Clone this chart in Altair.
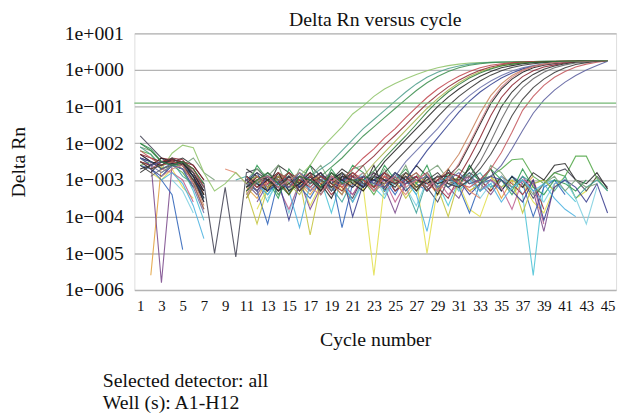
import altair as alt
import pandas as pd

_ = None
cycles = list(range(1, 46))
x_ticks = list(range(1, 46, 2))
y_ticks = [1e-6, 1e-5, 1e-4, 1e-3, 1e-2, 1e-1, 1, 10]
threshold = 0.125
title = "Delta Rn versus cycle"
x_title = "Cycle number"
y_title = "Delta Rn"
notes = ["Selected detector: all", "Well (s): A1-H12"]

# log10(Delta Rn) per cycle (None = no value drawn)
A1 = [-2.6, -2.5, -2.7, -2.27, -2.05, -2.12, -2.8, -3.3, -3.1, -2.8, -3.1, -2.9, -3.2, -2.8, -3.0,
      -2.9, -2.6, -2.15, -1.85, -1.55, -1.2, -0.98, -0.72, -0.52, -0.37, -0.24, -0.12, -0.02, 0.06, 0.12,
      0.16, 0.19, 0.2, 0.21, 0.22, 0.22, 0.23, 0.23, 0.23, 0.24, 0.24, 0.24, 0.24, 0.25, 0.25]
A2 = [-2.1, -2.3, -2.6, -2.5, -2.6, -2.9, -3.5, _, _, _, -3.0, -3.3, -2.8, -3.1, -2.9,
      -3.2, -2.9, -2.7, -2.5, -2.2, -1.9, -1.6, -1.35, -1.1, -0.85, -0.6, -0.38, -0.2, -0.06, 0.04,
      0.11, 0.16, 0.19, 0.21, 0.22, 0.22, 0.23, 0.23, 0.24, 0.24, 0.24, 0.24, 0.25, 0.25, 0.25]
A3 = [-2.4, -2.6, -2.5, -2.6, -2.5, -3.1, -3.8, _, _, _, _, -3.1, -2.9, -3.4, -3.0,
      -2.8, -3.1, -2.9, -2.65, -2.4, -2.1, -1.8, -1.55, -1.3, -1.05, -0.8, -0.56, -0.35, -0.18, -0.04,
      0.06, 0.13, 0.17, 0.2, 0.21, 0.22, 0.23, 0.23, 0.24, 0.24, 0.24, 0.25, 0.25, 0.25, 0.25]
A4 = [_, -2.7, -2.5, -2.45, -2.5, -2.7, -3.2, _, _, _, -3.3, -2.9, -3.1, -2.8, -3.2,
      -3.0, -2.8, -3.3, -2.9, -3.0, -2.7, -2.4, -2.15, -1.85, -1.6, -1.3, -1.02, -0.75, -0.52, -0.33,
      -0.17, -0.04, 0.06, 0.13, 0.17, 0.2, 0.22, 0.23, 0.23, 0.24, 0.24, 0.24, 0.25, 0.25, 0.26]
A5 = [-2.5, -2.6, -2.5, -2.4, -2.45, -2.8, -3.4, _, _, _, -3.0, -3.2, -2.9, -3.0, -3.4,
      -2.9, -3.1, -2.8, -3.2, -2.9, -2.9, -2.6, -2.35, -2.05, -1.78, -1.5, -1.2, -0.92, -0.68, -0.46,
      -0.28, -0.13, -0.01, 0.08, 0.14, 0.18, 0.2, 0.22, 0.23, 0.23, 0.24, 0.24, 0.25, 0.25, 0.26]
A6 = [_, _, -2.8, -2.6, -2.7, -3.0, _, _, _, _, -3.5, -3.0, -3.3, -2.9, -3.1,
      -3.4, -2.9, -3.0, -3.2, -2.8, -3.1, -2.9, -2.55, -2.25, -1.95, -1.65, -1.35, -1.05, -0.78, -0.55,
      -0.35, -0.18, -0.05, 0.05, 0.12, 0.16, 0.19, 0.21, 0.22, 0.23, 0.24, 0.24, 0.25, 0.25, 0.25]
A7 = [-2.3, -2.5, -2.6, -2.45, -2.5, -2.9, -3.6, _, _, _, -2.9, -3.1, -3.3, -2.8, -3.0,
      -3.2, -2.9, -3.1, -3.5, -2.9, -3.0, -3.2, -2.9, -2.5, -2.2, -1.9, -1.6, -1.3, -1.0, -0.74,
      -0.52, -0.33, -0.17, -0.04, 0.06, 0.12, 0.17, 0.2, 0.22, 0.23, 0.24, 0.24, 0.25, 0.25, 0.26]
A8 = [-2.6, -2.8, -2.5, -2.5, -2.6, -3.0, -3.3, _, _, _, -3.2, -2.9, -3.0, -3.3, -2.9,
      -3.1, -2.8, -3.0, -3.2, -3.0, -2.8, -3.1, -3.0, -2.8, -2.5, -2.2, -1.9, -1.6, -1.28, -0.98,
      -0.72, -0.5, -0.3, -0.14, -0.02, 0.07, 0.13, 0.17, 0.2, 0.22, 0.23, 0.24, 0.25, 0.25, 0.26]
A9 = [_, -2.6, -2.8, -2.6, -2.7, -3.2, -3.9, _, _, _, -3.1, -3.4, -2.9, -3.2, -3.0,
      -2.9, -3.3, -3.0, -2.8, -3.1, -3.2, -2.9, -3.1, -3.0, -2.9, -2.5, -2.2, -1.9, -1.6, -1.25,
      -0.95, -0.7, -0.48, -0.3, -0.15, -0.03, 0.06, 0.12, 0.17, 0.2, 0.22, 0.23, 0.24, 0.25, 0.26]
A10 = [-2.4, -2.5, -2.7, -2.55, -2.6, -2.9, -3.5, _, _, _, -3.0, -2.8, -3.3, -3.1, -2.9,
       -3.2, -3.0, -2.8, -3.3, -3.0, -2.9, -3.2, -3.0, -2.8, -3.1, -3.0, -2.6, -2.2, -1.85, -1.5,
       -1.15, -0.85, -0.6, -0.4, -0.22, -0.08, 0.03, 0.1, 0.15, 0.18, 0.21, 0.23, 0.24, 0.25, 0.26]
A11 = [-2.5, -2.7, -2.6, -2.5, -2.6, -3.0, -3.7, _, _, _, -3.1, -2.9, -3.2, -3.0, -2.8,
       -3.3, -3.0, -2.9, -3.1, -3.4, -2.9, -3.0, -3.2, -2.8, -3.1, -2.9, -3.3, -3.0, -3.0, -2.7,
       -2.3, -1.75, -1.18, -0.7, -0.38, -0.15, 0.0, 0.1, 0.16, 0.2, 0.22, 0.23, 0.24, 0.25, 0.26]
A12 = [-2.7, -2.6, -2.4, -2.5, -2.55, -2.8, -3.3, _, _, _, -2.9, -3.2, -3.0, -2.8, -3.3,
       -3.1, -2.9, -3.2, -3.0, -2.8, -3.1, -3.3, -2.9, -3.0, -3.2, -2.8, -3.0, -3.1, -2.9, -2.9,
       -2.6, -2.05, -1.48, -0.92, -0.52, -0.25, -0.06, 0.06, 0.13, 0.18, 0.21, 0.23, 0.24, 0.25, 0.26]
A13 = [-2.3, -2.4, -2.5, -2.45, -2.5, -2.6, -3.0, _, _, _, -3.0, -3.3, -2.9, -3.1, -2.8,
       -3.0, -3.2, -2.9, -3.1, -3.3, -2.9, -3.0, -3.2, -2.8, -3.0, -3.1, -2.9, -3.3, -3.0, -2.8,
       -2.9, -2.4, -1.85, -1.25, -0.75, -0.42, -0.18, -0.02, 0.08, 0.14, 0.19, 0.22, 0.24, 0.25, 0.26]
A14 = [-2.8, -2.6, -2.5, -2.55, -2.5, -2.9, -3.4, _, _, _, -3.2, -3.0, -2.9, -3.3, -3.1,
       -2.9, -3.0, -3.3, -2.8, -3.0, -3.2, -2.9, -3.0, -3.1, -2.8, -3.0, -3.3, -2.9, -3.1, -3.0,
       -3.0, -2.7, -2.2, -1.6, -1.0, -0.6, -0.32, -0.12, 0.02, 0.11, 0.17, 0.21, 0.23, 0.25, 0.26]
A15 = [_, -2.9, -2.7, -2.6, -2.5, -2.8, -3.2, _, _, _, -3.3, -3.1, -2.8, -3.0, -3.2,
       -2.9, -3.1, -3.0, -3.3, -2.8, -3.0, -3.1, -2.9, -3.2, -3.0, -2.8, -3.0, -3.2, -2.9, -3.1,
       -3.0, -2.9, -2.5, -1.95, -1.35, -0.82, -0.48, -0.24, -0.06, 0.06, 0.14, 0.19, 0.22, 0.24, 0.26]
A16 = [-2.2, -2.4, -2.6, -2.5, -2.6, -3.1, -3.8, _, _, _, -2.9, -3.2, -3.1, -2.8, -3.0,
       -3.3, -2.9, -3.1, -3.0, -3.2, -2.8, -3.0, -3.3, -2.9, -3.1, -3.0, -2.8, -3.1, -3.3, -2.9,
       -3.1, -3.2, -3.0, -2.7, -2.25, -1.7, -1.1, -0.72, -0.42, -0.2, -0.04, 0.08, 0.16, 0.21, 0.25]
A17 = [-2.4, -2.6, -2.5, -2.6, -2.7, -3.2, _, _, _, _, -3.0, -3.3, -2.9, -3.1, -3.2,
       -2.8, -3.0, -3.2, -2.9, -3.1, -3.0, -2.9, -3.1, -3.2, -2.8, -3.1, -3.0, -2.9, -3.2, -3.0,
       -2.8, -3.1, -3.0, -2.9, -2.6, -2.15, -1.65, -1.18, -0.82, -0.55, -0.33, -0.15, 0.0, 0.12, 0.24]
A18 = [-2.5, -2.7, -2.6, -2.4, -2.6, -3.0, -3.5, _, _, _, -3.1, -2.8, -3.0, -3.2, -2.9,
       -3.3, -3.0, -2.8, -3.1, -2.9, -3.0, -3.2, -2.8, -3.0, -3.1, -2.9, -3.2, -3.0, -2.8, -3.1,
       -3.2, -3.0, -2.7, -2.3, -1.8, -1.25, -0.8, -0.48, -0.25, -0.07, 0.06, 0.15, 0.2, 0.24, 0.26]
A19 = [_, _, -2.9, -2.7, -2.6, -3.1, _, _, _, _, -3.4, -3.0, -2.9, -3.2, -3.0,
       -2.8, -3.2, -3.4, -2.9, -3.1, -3.0, -2.8, -3.3, -3.1, -2.9, -3.2, -3.0, -2.8, -3.3, -3.0,
       -2.55, -2.0, -1.42, -0.85, -0.47, -0.2, -0.02, 0.09, 0.15, 0.19, 0.22, 0.23, 0.24, 0.25, 0.26]
A20 = [-2.0, -2.2, -2.5, -2.6, -2.5, -2.7, -3.1, _, _, _, -3.3, -3.0, -2.8, -3.1, -3.4,
       -2.9, -3.0, -3.2, -2.8, -3.1, -3.0, -3.0, -2.75, -2.4, -2.1, -1.8, -1.48, -1.15, -0.85, -0.6,
       -0.4, -0.22, -0.08, 0.03, 0.11, 0.16, 0.19, 0.21, 0.22, 0.23, 0.24, 0.24, 0.25, 0.25, 0.25]

N1 = [_, _, -2.9, -2.6, -2.7, -3.3, -4.1, _, _, _, -3.4, -3.0, -3.6, -2.9, -3.1,
      -2.8, -3.3, -3.0, -3.9, -2.9, -3.1, -2.8, -3.2, -3.5, -2.9, -3.0, -3.4, -2.8, -3.1, -3.7,
      -3.0, -2.8, -3.3, -3.0, -3.2, -2.9, -3.4, -5.6, -3.1, -3.0, -3.3, -3.6, _, _, _]
N2 = [_, -2.8, -3.0, -2.7, -3.2, -3.5, _, _, _, _, _, -3.8, -3.2, -2.9, -3.4,
      -3.0, -3.7, -3.1, -2.9, -3.3, -3.0, -3.2, -5.6, -3.1, -2.9, -3.3, -3.0, -5.0, -3.2, -2.9,
      -3.1, -3.8, -4.0, -3.2, -3.0, -3.4, -3.1, -3.6, -3.9, -3.2, -2.9, -3.5, -3.3, -2.9, _]
N3 = [-1.8, -2.1, -2.4, -2.6, -2.5, -2.9, -3.1, -5.0, -3.2, -5.1, -2.8, -2.7, -3.0, -3.3, -2.9,
      -3.1, -2.8, -3.4, -3.0, -3.2, -3.5, -2.9, -3.1, -2.8, -3.3, -3.0, -2.9, -3.2, -3.6, -3.0,
      -3.1, -2.8, -3.0, -3.3, -2.9, -3.2, -3.0, -3.5, -3.1, -2.8, -2.7, -3.0, -3.3, -2.9, -3.2]
N4 = [_, -5.6, -2.6, -2.5, -2.7, -3.0, -3.4, _, _, _, -3.2, -3.5, -3.0, -3.3, -2.9,
      -3.1, -3.4, -3.0, -2.8, -3.2, -3.6, -3.0, -2.9, -3.3, -3.1, -2.8, -3.2, -3.0, -3.4, -2.9,
      -3.0, -3.3, -3.1, -2.9, -3.5, -3.0, -3.2, -2.9, _, _, _, _, _, _, _]
N5 = [-2.3, -2.5, -5.8, -2.6, -2.5, -2.8, -3.3, _, _, _, _, -3.6, -3.1, -2.9, -3.3,
      -3.0, -3.8, -3.2, -2.9, -3.1, -3.4, -3.0, -2.8, -3.2, -3.9, -3.1, -2.9, -3.3, -3.0, -3.2,
      -3.5, -2.9, -3.1, -3.4, -3.0, -3.2, -2.9, -3.3, -4.4, -3.1, -3.0, _, _, _, _]
N6 = [-2.2, -2.3, -2.7, -2.6, -2.8, -3.2, _, _, _, _, -3.0, -2.9, -3.2, -2.8, -3.1,
      -3.3, -2.9, -3.0, -3.2, -2.8, -3.1, -3.0, -3.4, -2.9, -3.1, -3.0, -2.8, -3.3, -3.0, -3.2,
      -2.9, -3.1, -3.0, -2.9, -2.7, -2.45, -2.42, -2.9, -3.1, -2.8, -2.9, -2.35, -2.35, -2.95, -3.3]
N7 = [-2.6, -2.7, -3.0, -3.4, -4.9, _, _, _, _, _, -3.1, -3.3, -4.2, -3.0, -2.8,
      -3.2, -3.5, -3.0, -2.9, -4.3, -3.1, -2.9, -3.2, -3.0, -3.4, -2.9, -3.1, -3.3, -3.0, -2.8,
      -3.2, -3.9, -3.1, -3.0, -3.3, -2.9, -3.1, -4.0, -3.2, -3.0, -3.4, _, _, _, _]
N8 = [_, _, -2.6, -2.5, -2.9, -3.1, -3.5, _, _, -3.0, -2.9, -3.1, -3.4, -3.0, -2.8,
      -3.3, -3.1, -2.9, -3.2, -3.6, -3.0, -2.9, -3.3, -3.1, -2.8, -3.2, -3.9, -3.0, -3.1, -2.9,
      -3.3, -3.0, -2.8, -3.2, -3.0, -3.4, -2.9, -3.1, -3.0, -3.3, -2.9, -3.5, -3.2, -3.0, -3.3]
N9 = [-2.5, -2.6, -2.4, -2.45, -2.5, -2.7, -3.2, _, _, _, -3.5, -3.0, -3.3, -2.9, -3.1,
      -3.2, -2.9, -3.0, -3.4, -3.1, -2.8, -3.0, -3.2, -2.9, -3.3, -3.1, -3.0, -2.8, -3.2, -3.5,
      -2.9, -3.1, -3.0, -3.3, -2.9, -3.1, -3.4, -3.0, -3.8, _, _, _, _, _, _]
N10 = [_, _, _, -3.0, -3.3, -3.9, _, _, _, _, _, _, -3.5, -3.1, -3.9,
       -3.0, -3.3, -2.9, -3.2, -3.0, -3.6, -3.1, -2.9, -3.4, -3.0, -3.2, -3.7, -3.0, -3.1, -2.9,
       -3.3, -3.0, -3.5, -3.1, -2.9, -3.2, -3.0, -3.3, -3.6, -3.1, -3.0, -3.5, -4.2, -3.2, _]
N11 = [_, _, _, _, _, _, _, _, _, _, -3.3, -4.2, -3.2, -3.0, -3.4,
       -3.0, -4.5, -3.1, -2.9, -3.2, -3.0, -3.3, -2.9, -3.1, -3.0, -3.5, -3.1, -2.9, -3.2, -4.0,
       -3.0, -3.3, -3.1, -2.9, -3.2, -3.0, -3.9, -3.1, -3.0, -3.3, _, _, _, _, _]
N12 = [-2.4, -2.5, -2.6, -2.5, -2.4, -2.6, -3.0, _, _, _, -2.7, -2.9, -3.2, -2.6, -2.8,
       -3.1, -2.6, -2.9, -3.0, -2.7, -2.9, -3.2, -2.6, -3.3, -2.8, -3.0, -2.6, -2.9, -3.4, -2.7,
       -3.2, -2.6, -3.0, -2.7, -3.3, -2.9, -3.2, -2.8, -3.0, -2.6, -2.55, -3.0, -3.1, -2.8, -3.25]
N13 = [_, _, -2.7, -2.8, -3.0, -3.6, _, _, _, _, _, -3.3, -3.0, -3.2, -3.8,
       -3.1, -2.9, -3.3, -3.0, -3.1, -3.4, -2.9, -3.2, -3.0, -3.6, -3.1, -2.9, -3.2, -3.0, -3.4,
       -3.1, -2.9, -3.3, -3.0, -3.2, -3.8, -3.0, -3.1, -4.2, _, _, _, _, _, _]
N14 = [-2.0, -2.15, -2.5, -2.6, -2.6, -3.0, -3.4, _, _, _, -3.2, -2.6, -3.0, -3.5, -2.7,
       -3.1, -2.6, -3.3, -2.7, -3.1, -2.6, -2.8, -3.2, -2.6, -3.0, -2.7, -3.1, -2.6, -3.3, -2.8,
       -3.2, -2.6, -3.1, -2.7, -3.0, -3.3, -2.7, -3.2, -3.4, -3.0, -3.1, -3.3, -3.0, _, _]
N15 = [_, -2.7, -2.9, -2.6, -2.7, -3.0, -3.6, _, _, _, -2.9, -3.1, -3.3, -3.0, -4.1,
       -3.1, -2.9, -3.2, -3.0, -2.8, -4.0, -3.1, -3.0, -3.2, -2.9, -3.3, -3.0, -3.1, -2.9, -3.2,
       -3.0, -3.4, -3.1, -2.9, -3.0, -3.3, -3.6, -3.0, -4.1, -3.2, -3.0, -3.2, -3.6, -3.1, -3.9]
N16 = [_, _, _, _, _, _, _, _, -2.7, -2.8, -3.1, -3.4, -3.0, -3.2, -2.9,
       -3.1, -3.3, -3.0, -2.9, -3.2, -3.1, -3.0, -3.3, -2.9, -3.1, -3.4, -3.0, -3.2, -2.9, -3.1,
       -3.0, -3.3, -3.5, _, _, _, _, _, _, _, _, _, _, _, _]
N17 = [-2.1, -2.2, -2.5, -2.55, -2.6, -2.4, -2.8, -3.0, _, _, -3.0, -2.7, -2.9, -2.6, -3.3,
       -2.7, -2.9, -2.6, -3.1, -3.4, -2.7, -2.6, -3.2, -2.7, -3.1, -2.6, -3.3, -2.8, -2.6, -3.0,
       -2.7, -2.9, -3.3, -2.6, -2.8, -3.2, -3.0, -3.4, -3.1, -2.9, -3.3, -3.0, -3.2, -3.1, _]
N18 = [_, _, -3.0, -2.8, -3.1, -3.7, -4.6, _, _, _, _, -3.1, -3.4, -3.0, -3.3,
       -4.3, -3.1, -2.9, -3.2, -3.0, -3.6, -3.0, -2.9, -3.3, -3.1, -3.0, -3.4, -4.4, -3.1, -2.9,
       -3.2, -3.0, -3.3, -3.1, -3.6, -3.2, -3.0, -3.3, -3.1, -3.5, -3.8, -4.0, _, _, _]

wells = [
    ("N1", "#4cc3d6", N1), ("N2", "#e2df4e", N2), ("N3", "#444455", N3), ("N4", "#e3a13c", N4),
    ("N5", "#7b4a8c", N5), ("N6", "#54a84a", N6), ("N7", "#2f63b8", N7), ("N8", "#3fa39a", N8),
    ("N9", "#9a2d3a", N9), ("N10", "#7fd0e0", N10), ("N11", "#c4c43c", N11), ("N12", "#2b2b2b", N12),
    ("N13", "#c06090", N13), ("N14", "#2e9b52", N14), ("N15", "#3a3f8f", N15), ("N16", "#e08a70", N16),
    ("N17", "#7aa07a", N17), ("N18", "#4bb2e0", N18),
    ("A1", "#8fc46a", A1), ("A2", "#4f9e8c", A2), ("A3", "#3c8f4e", A3), ("A4", "#c0474f", A4),
    ("A5", "#8e2a35", A5), ("A6", "#a6b24a", A6), ("A7", "#222222", A7), ("A8", "#333333", A8),
    ("A9", "#6a6fa8", A9), ("A10", "#34418f", A10), ("A11", "#c9825a", A11), ("A12", "#1e1e1e", A12),
    ("A13", "#8b2430", A13), ("A14", "#2a2a2a", A14), ("A15", "#666666", A15), ("A16", "#c4565c", A16),
    ("A17", "#5b5f9e", A17), ("A18", "#3a3a3a", A18), ("A19", "#cf7f86", A19), ("A20", "#2f7a3a", A20),
]

rows = []
for name, color, vals in wells:
    for c, lv in zip(cycles, vals):
        rows.append({"well": name, "cycle": c, "rn": (10 ** lv) if lv is not None else None})
df = pd.DataFrame(rows)

FONT = "Liberation Serif"
x_scale = alt.Scale(domain=[0.45, 45.8], nice=False, zero=False)
y_scale = alt.Scale(type="log", domain=[1e-6, 10], nice=False)

label_expr = ("'1e' + (round(log(datum.value)/LN10) >= 0 ? '+' : '\u2212') + "
              "format(abs(round(log(datum.value)/LN10)), '03d')")

lines = alt.Chart(df).mark_line(strokeWidth=1.1, opacity=0.88).encode(
    x=alt.X("cycle:Q", scale=x_scale,
            axis=alt.Axis(values=x_ticks, title=x_title, grid=False, ticks=False, domain=False,
                          labelFontSize=15, labelPadding=9, titleFontSize=20, titleFontWeight="normal",
                          titlePadding=16, labelColor="#111", titleColor="#111", labelFont=FONT,
                          titleFont=FONT, labelFlush=False)),
    y=alt.Y("rn:Q", scale=y_scale,
            axis=alt.Axis(values=y_ticks, labelExpr=label_expr, title=y_title, grid=True,
                          gridColor="#b4b4b4", gridWidth=1.4, ticks=False, domain=False,
                          labelFontSize=20, labelPadding=11, titleFontSize=20, titleFontWeight="normal",
                          titlePadding=36, labelColor="#111", titleColor="#111", labelFont=FONT,
                          titleFont=FONT, labelFlush=False)),
    color=alt.Color("well:N", scale=alt.Scale(domain=[w[0] for w in wells], range=[w[1] for w in wells]),
                    legend=None),
    detail="well:N",
)

thr = alt.Chart(pd.DataFrame({"t": [threshold]})).mark_rule(color="#74b774", strokeWidth=1.4).encode(
    y=alt.Y("t:Q", scale=y_scale)
)

note1 = alt.Chart(pd.DataFrame({"t": [notes[0]]})).mark_text(
    align="left", baseline="alphabetic", fontSize=20, font=FONT, color="#111"
).encode(text="t:N", x=alt.value(-32), y=alt.value(358))
note2 = alt.Chart(pd.DataFrame({"t": [notes[1]]})).mark_text(
    align="left", baseline="alphabetic", fontSize=20, font=FONT, color="#111"
).encode(text="t:N", x=alt.value(-32), y=alt.value(381))

chart = alt.layer(lines, thr, note1, note2).properties(
    width=488, height=260,
    title=alt.TitleParams(title, fontSize=20, font=FONT, fontWeight="normal", color="#111",
                          anchor="middle", offset=-7),
    padding={"left": 0, "top": 0, "right": 5, "bottom": 0},
).configure_view(stroke="#222", strokeWidth=2).configure(font=FONT, background="white")

chart.save("out.html", embed_options={"renderer": "svg", "actions": False})
